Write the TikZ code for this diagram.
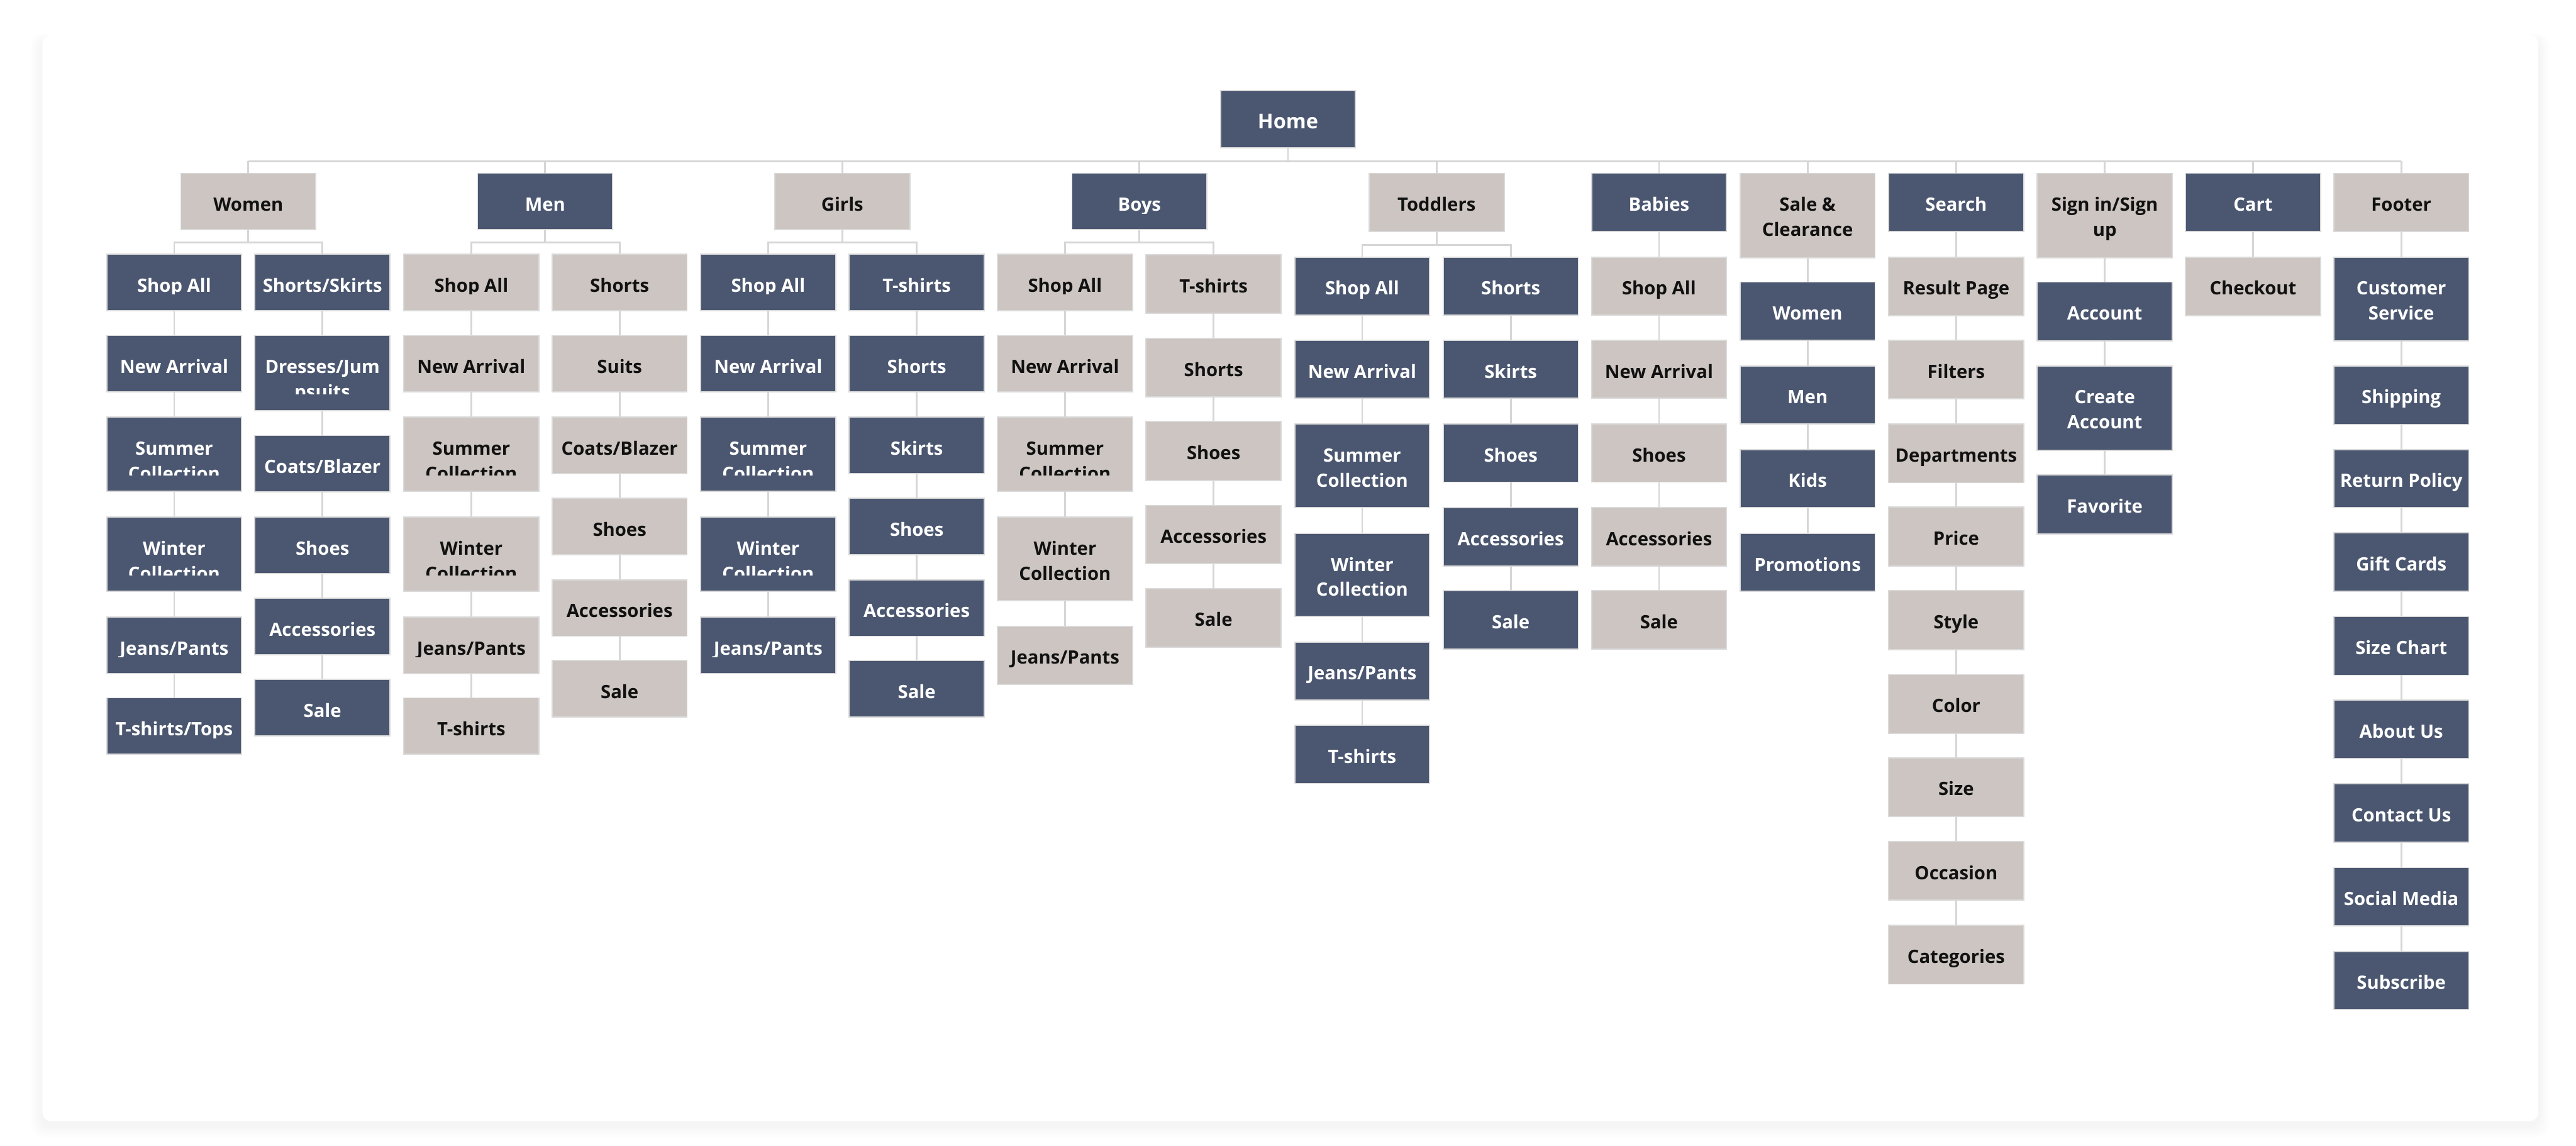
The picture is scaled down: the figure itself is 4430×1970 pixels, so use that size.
\documentclass[tikz,border=0pt]{standalone}
\usepackage{fontspec}
\setmainfont{Open Sans}
\definecolor{dk}{HTML}{4B5770}
\definecolor{bg}{HTML}{CCC5C1}
\colorlet{dktxt}{white}
\definecolor{bgtxt}{HTML}{111111}
\definecolor{edgecol}{HTML}{DADADA}
\definecolor{conncol}{HTML}{D6D6D6}
\tikzset{
 box/.style={draw=edgecol, line width=0.02cm, anchor=north, minimum width=2.32cm, inner sep=0pt, outer sep=0pt},
 conn/.style={draw=conncol, line width=0.03cm},
 lbl/.style={inner sep=0pt, anchor=base},
}
\newcommand\bx[7][\fontsize{9pt}{12.3pt}\selectfont]{%
 \node[box, fill=#3, minimum height=#6*0.01cm] (#2) at (#4,#5) {};
 \begin{scope}
  \clip ([yshift=0.28cm]#2.south west) rectangle (#2.north east);
  \node[lbl, text=#3txt] (#2-t) at ([yshift=-0.65cm]#2.north) {#1\bfseries\begin{tabular}[t]{@{}c@{}}#7\end{tabular}};
 \end{scope}}
\begin{document}
\begin{tikzpicture}[x=0.01cm,y=-0.01cm]
\useasboundingbox (0,0) rectangle (4430,1970);
\fill[white] (0,0) rectangle (4430,1970);
\foreach \i in {1,...,10} \fill[black, opacity=0.005, rounded corners=0.2cm] ({73-2*\i},{60-\i+8}) rectangle ({4365+2*\i},{1928+2*\i+8});
\fill[white, rounded corners=0.15cm] (73,60) rectangle (4365,1928);

% top level
\bx[\fontsize{10pt}{13pt}\selectfont]{home}{dk}{2215}{156}{98}{Home}
\bx{women}{bg}{427}{298}{97}{Women}
\bx{men}{dk}{937.5}{298}{97}{Men}
\bx{girls}{bg}{1448.5}{298}{97}{Girls}
\bx{boys}{dk}{1959.5}{298}{97}{Boys}
\bx{tod}{bg}{2470.5}{298}{100}{Toddlers}
\bx{bab}{dk}{2853}{298}{100}{Babies}
\bx{sale}{bg}{3108.5}{298}{145}{Sale \&\\Clearance}
\bx{search}{dk}{3364}{298}{100}{Search}
\bx{sign}{bg}{3619.5}{298}{145}{Sign in/Sign\\up}
\bx{cart}{dk}{3874.5}{298}{100}{Cart}
\bx{footer}{bg}{4129.5}{298}{100}{Footer}

% Women
\bx{wA1}{dk}{299.5}{437}{97}{Shop All}
\bx{wA2}{dk}{299.5}{577}{97}{New Arrival}
\bx{wA3}{dk}{299.5}{717}{128}{Summer\\Collection}
\bx{wA4}{dk}{299.5}{889}{128}{Winter\\Collection}
\bx{wA5}{dk}{299.5}{1061}{97}{Jeans/Pants}
\bx{wA6}{dk}{299.5}{1200}{97}{T-shirts/Tops}
\bx{wB1}{dk}{554.5}{437}{97}{Shorts/Skirts}
\bx{wB2}{dk}{554.5}{577}{129}{Dresses/Jum\\psuits}
\bx{wB3}{dk}{554.5}{749}{97}{Coats/Blazer}
\bx{wB4}{dk}{554.5}{889}{97}{Shoes}
\bx{wB5}{dk}{554.5}{1029}{97}{Accessories}
\bx{wB6}{dk}{554.5}{1168}{97}{Sale}

% Men
\bx{mA1}{bg}{810.5}{437}{97}{Shop All}
\bx{mA2}{bg}{810.5}{577}{97}{New Arrival}
\bx{mA3}{bg}{810.5}{717}{128}{Summer\\Collection}
\bx{mA4}{bg}{810.5}{889}{128}{Winter\\Collection}
\bx{mA5}{bg}{810.5}{1061}{97}{Jeans/Pants}
\bx{mA6}{bg}{810.5}{1200}{97}{T-shirts}
\bx{mB1}{bg}{1065.5}{437}{97}{Shorts}
\bx{mB2}{bg}{1065.5}{577}{97}{Suits}
\bx{mB3}{bg}{1065.5}{717}{97}{Coats/Blazer}
\bx{mB4}{bg}{1065.5}{857}{97}{Shoes}
\bx{mB5}{bg}{1065.5}{997}{97}{Accessories}
\bx{mB6}{bg}{1065.5}{1136}{97}{Sale}

% Girls
\bx{gA1}{dk}{1321}{437}{97}{Shop All}
\bx{gA2}{dk}{1321}{577}{97}{New Arrival}
\bx{gA3}{dk}{1321}{717}{128}{Summer\\Collection}
\bx{gA4}{dk}{1321}{889}{128}{Winter\\Collection}
\bx{gA5}{dk}{1321}{1061}{97}{Jeans/Pants}
\bx{gB1}{dk}{1576.5}{437}{97}{T-shirts}
\bx{gB2}{dk}{1576.5}{577}{97}{Shorts}
\bx{gB3}{dk}{1576.5}{717}{97}{Skirts}
\bx{gB4}{dk}{1576.5}{857}{97}{Shoes}
\bx{gB5}{dk}{1576.5}{997}{97}{Accessories}
\bx{gB6}{dk}{1576.5}{1136}{97}{Sale}

% Boys
\bx{bA1}{bg}{1831.5}{437}{97}{Shop All}
\bx{bA2}{bg}{1831.5}{577}{97}{New Arrival}
\bx{bA3}{bg}{1831.5}{717}{128}{Summer\\Collection}
\bx{bA4}{bg}{1831.5}{889}{144}{Winter\\Collection}
\bx{bA5}{bg}{1831.5}{1077}{100}{Jeans/Pants}
\bx{bB1}{bg}{2087}{438}{101}{T-shirts}
\bx{bB2}{bg}{2087}{582}{100}{Shorts}
\bx{bB3}{bg}{2087}{725}{101}{Shoes}
\bx{bB4}{bg}{2087}{869}{100}{Accessories}
\bx{bB5}{bg}{2087}{1012}{101}{Sale}

% Toddlers
\bx{tA1}{dk}{2342.5}{442}{100}{Shop All}
\bx{tA2}{dk}{2342.5}{585}{100}{New Arrival}
\bx{tA3}{dk}{2342.5}{729}{144}{Summer\\Collection}
\bx{tA4}{dk}{2342.5}{917}{143}{Winter\\Collection}
\bx{tA5}{dk}{2342.5}{1104}{100}{Jeans/Pants}
\bx{tA6}{dk}{2342.5}{1247}{100}{T-shirts}
\bx{tB1}{dk}{2598}{442}{100}{Shorts}
\bx{tB2}{dk}{2598}{585}{100}{Skirts}
\bx{tB3}{dk}{2598}{729}{100}{Shoes}
\bx{tB4}{dk}{2598}{873}{100}{Accessories}
\bx{tB5}{dk}{2598}{1016}{100}{Sale}

% Babies
\bx{bb1}{bg}{2853}{442}{100}{Shop All}
\bx{bb2}{bg}{2853}{585}{100}{New Arrival}
\bx{bb3}{bg}{2853}{729}{100}{Shoes}
\bx{bb4}{bg}{2853}{873}{100}{Accessories}
\bx{bb5}{bg}{2853}{1016}{100}{Sale}

% Sale & Clearance
\bx{sc1}{dk}{3108.5}{485}{100}{Women}
\bx{sc2}{dk}{3108.5}{629}{100}{Men}
\bx{sc3}{dk}{3108.5}{773}{100}{Kids}
\bx{sc4}{dk}{3108.5}{917}{100}{Promotions}

% Search
\bx{se1}{bg}{3364}{442}{101}{Result Page}
\bx{se2}{bg}{3364}{585}{101}{Filters}
\bx{se3}{bg}{3364}{729}{101}{Departments}
\bx{se4}{bg}{3364}{872}{101}{Price}
\bx{se5}{bg}{3364}{1016}{101}{Style}
\bx{se6}{bg}{3364}{1160}{101}{Color}
\bx{se7}{bg}{3364}{1303}{101}{Size}
\bx{se8}{bg}{3364}{1447}{101}{Occasion}
\bx{se9}{bg}{3364}{1591}{101}{Categories}

% Sign in
\bx{si1}{dk}{3619.5}{485}{101}{Account}
\bx{si2}{dk}{3619.5}{629}{145}{Create\\Account}
\bx{si3}{dk}{3619.5}{817}{101}{Favorite}

% Cart
\bx{ca1}{bg}{3874.5}{442}{101}{Checkout}

% Footer
\bx{fo1}{dk}{4129.5}{442}{144}{Customer\\Service}
\bx{fo2}{dk}{4129.5}{629}{101}{Shipping}
\bx{fo3}{dk}{4129.5}{773}{100}{Return Policy}
\bx{fo4}{dk}{4129.5}{916}{101}{Gift Cards}
\bx{fo5}{dk}{4129.5}{1060}{101}{Size Chart}
\bx{fo6}{dk}{4129.5}{1204}{100}{About Us}
\bx{fo7}{dk}{4129.5}{1348}{100}{Contact Us}
\bx{fo8}{dk}{4129.5}{1492}{100}{Social Media}
\bx{fo9}{dk}{4129.5}{1636}{100}{Subscribe}

% connectors
\coordinate (bus) at (0,277);
\coordinate (brA) at (0,417);
\coordinate (brT) at (0,421);
\draw[conn] (home.south) -- (home.south |- bus);
\draw[conn] (women.north |- bus) -- (footer.north |- bus);
\foreach \n in {women,men,girls,boys,tod,bab,sale,search,sign,cart,footer}
  \draw[conn] (\n.north) -- (\n.north |- bus);
\foreach \p/\l/\r in {women/wA1/wB1, men/mA1/mB1, girls/gA1/gB1, boys/bA1/bB1} {
  \draw[conn] (\p.south) -- (\p.south |- brA);
  \draw[conn] (\l.north) -- (\l.north |- brA) -| (\r.north);
}
\draw[conn] (tod.south) -- (tod.south |- brT);
\draw[conn] (tA1.north) -- (tA1.north |- brT) -| (tB1.north);
\foreach \p/\c in {bab/bb1, sale/sc1, search/se1, sign/si1, cart/ca1, footer/fo1}
  \draw[conn] (\p.south) -- (\c.north);
\foreach \c/\n in {wA/5,wB/5,mA/5,mB/5,gA/4,gB/5,bA/4,bB/4,tA/5,tB/4,bb/4,sc/3,se/8,si/2,fo/8} {
  \foreach \i in {1,...,\n} {
    \pgfmathtruncatemacro\j{\i+1}
    \draw[conn] (\c\i.south) -- (\c\j.north);
  }
}
\end{tikzpicture}
\end{document}
